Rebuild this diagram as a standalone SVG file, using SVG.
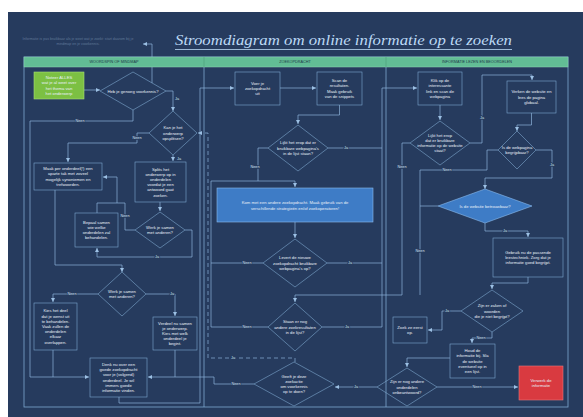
<svg xmlns="http://www.w3.org/2000/svg" width="583" height="417" viewBox="0 0 583 417">
  <style>
    .frame{fill:none;stroke:#7ea7cf;stroke-width:0.8}
    .box{fill:none;stroke:#7ea7cf;stroke-width:0.6}
    .c{fill:none;stroke:#8db3da;stroke-width:0.7}
    .dash{stroke-dasharray:4 3}
    .t{font-family:"Liberation Sans",Arial,sans-serif;font-size:4.2px;fill:#e8f0f8;text-anchor:middle}
    .lbl{font-family:"Liberation Sans",Arial,sans-serif;font-size:3.8px;fill:#d5e3f2;text-anchor:middle;stroke:#263b5e;stroke-width:1.6px;paint-order:stroke}
    .hd{font-family:"Liberation Sans",Arial,sans-serif;font-size:3.8px;fill:#1f3a4a;text-anchor:middle}
    .green{fill:#7cc043;stroke:#a8dc7a;stroke-width:0.6}
    .blue{fill:#3e7cc6;stroke:#8cbcef;stroke-width:0.6}
    .red{fill:#d93a40;stroke:#e8777b;stroke-width:0.6}
  </style>
  <defs>
    <marker id="arr" markerUnits="userSpaceOnUse" markerWidth="4" markerHeight="4" refX="4" refY="2" orient="auto">
      <path d="M0,0 L4,2 L0,4 z" fill="#9cc0e4"/>
    </marker>
  </defs>

  <!-- page -->
  <rect x="0" y="0" width="583" height="417" fill="#ffffff"/>
  <rect x="8" y="12" width="575" height="405" fill="#263b5e"/>

  <!-- title and side note -->
  <text x="175" y="45" textLength="337" lengthAdjust="spacingAndGlyphs" font-family="'Liberation Serif',serif" font-style="italic" font-size="15" fill="#bcd9f5">Stroomdiagram om online informatie op te zoeken</text>
  <line x1="175" y1="49.5" x2="512" y2="49.5" stroke="#bcd9f5" stroke-width="0.8"/>
  <text x="78" y="40" font-family="'Liberation Sans',sans-serif" font-size="3.6" fill="#5f7797" text-anchor="middle">Informatie is pas bruikbaar als je weet wat je zoekt: start daarom bij je</text>
  <text x="78" y="45" font-family="'Liberation Sans',sans-serif" font-size="3.6" fill="#5f7797" text-anchor="middle">mindmap en je voorkennis.</text>

  <!-- swimlane frame -->
  <rect class="frame" x="24" y="57" width="544" height="350"/>
  <line class="frame" x1="204" y1="57" x2="204" y2="407"/>
  <line class="frame" x1="386" y1="57" x2="386" y2="407"/>

  <!-- connectors -->
  <g id="connectors">
    <path class="c" d="M152,83 V44 H143" marker-end="url(#arr)"/>
    <path class="c" d="M84,90 H100" marker-end="url(#arr)"/>
    <path class="c" d="M166,91 H173 V111" marker-end="url(#arr)"/>
    <path class="c" d="M133,110 V121 H30 V377 H89" marker-end="url(#arr)"/>
    <path class="c" d="M149,133 H137 V143 H68 V162" marker-end="url(#arr)"/>
    <path class="c" d="M173,155 V161" marker-end="url(#arr)"/>
    <path class="c" d="M160,202 V211" marker-end="url(#arr)"/>
    <path class="c" d="M135,230 H125 V203 H117"/>
    <path class="c" d="M97,213 V203 H117 V177 H103" marker-end="url(#arr)"/>
    <path class="c" d="M185,230 H192 V257 H97 V248" marker-end="url(#arr)"/>
    <path class="c" d="M55,190 V265 H122 V272" marker-end="url(#arr)"/>
    <path class="c" d="M98,294 H53 V302" marker-end="url(#arr)"/>
    <path class="c" d="M146,294 H175 V316" marker-end="url(#arr)"/>
    <path class="c" d="M53,350 V377"/>
    <path class="c" d="M175,350 V377 H148" marker-end="url(#arr)"/>
    <path class="c" d="M254,384 H214 V377 H175"/>
    <path class="c" d="M119,397 V403 H200 V88 H234" marker-end="url(#arr)"/>
    <path class="c dash" d="M295,362 V358 H208 V133 H198" marker-end="url(#arr)"/>
    <path class="c" d="M280,88 H316" marker-end="url(#arr)"/>
    <path class="c" d="M339.5,105 V115 H298 V124" marker-end="url(#arr)"/>
    <path class="c" d="M328,148 H382"/>
    <path class="c" d="M382,327 V88 H417" marker-end="url(#arr)"/>
    <path class="c" d="M268,148 H258 V181"/>
    <path class="c" d="M211,327 V181 H295 V187" marker-end="url(#arr)"/>
    <path class="c" d="M263,263 H211"/>
    <path class="c" d="M268,327 H211"/>
    <path class="c" d="M295,222 V238" marker-end="url(#arr)"/>
    <path class="c" d="M327,263 H382"/>
    <path class="c" d="M322,327 H382"/>
    <path class="c" d="M410,143 H402 V295 H295 V302" marker-end="url(#arr)"/>
    <path class="c" d="M438,206 H420 V295"/>
    <path class="c" d="M498,150 H487 V170 H420 V206"/>
    <path class="c" d="M440,105 V120" marker-end="url(#arr)"/>
    <path class="c" d="M470,143 H482 V75 H532 V80" marker-end="url(#arr)"/>
    <path class="c" d="M531.5,113 V125 H517 V131" marker-end="url(#arr)"/>
    <path class="c" d="M536,150 H552 V178 H485 V189" marker-end="url(#arr)"/>
    <path class="c" d="M485,223 V231 H528 V237" marker-end="url(#arr)"/>
    <path class="c" d="M528,277 V283 H492 V289" marker-end="url(#arr)"/>
    <path class="c" d="M461,311 H442 V330 H428" marker-end="url(#arr)"/>
    <path class="c" d="M492,332 V338 H472 V343" marker-end="url(#arr)"/>
    <path class="c" d="M450,358 H407 V367" marker-end="url(#arr)"/>
    <path class="c" d="M437,387 H518" marker-end="url(#arr)"/>
    <path class="c" d="M377,387 H335" marker-end="url(#arr)"/>

    <text class="lbl" x="177" y="100">Ja</text>
    <text class="lbl" x="80" y="122.3">Neen</text>
    <text class="lbl" x="137" y="139">Neen</text>
    <text class="lbl" x="179" y="160">Ja</text>
    <text class="lbl" x="125" y="217">Neen</text>
    <text class="lbl" x="157" y="258.3">Ja</text>
    <text class="lbl" x="72" y="295.3">Neen</text>
    <text class="lbl" x="172" y="295.3">Ja</text>
    <text class="lbl" x="236" y="385.3">Neen</text>
    <text class="lbl" x="233" y="359.3">Ja</text>
    <text class="lbl" x="346" y="149.3">Ja</text>
    <text class="lbl" x="255" y="168">Neen</text>
    <text class="lbl" x="247" y="264.3">Neen</text>
    <text class="lbl" x="350" y="264.3">Ja</text>
    <text class="lbl" x="247" y="328.3">Neen</text>
    <text class="lbl" x="347" y="328.3">Ja</text>
    <text class="lbl" x="402" y="168">Neen</text>
    <text class="lbl" x="420" y="252">Neen</text>
    <text class="lbl" x="447" y="171.3">Neen</text>
    <text class="lbl" x="482" y="119">Ja</text>
    <text class="lbl" x="552" y="166">Ja</text>
    <text class="lbl" x="505" y="232.3">Ja</text>
    <text class="lbl" x="447" y="312.3">Ja</text>
    <text class="lbl" x="481" y="339.3">Neen</text>
    <text class="lbl" x="477" y="388.3">Neen</text>
    <text class="lbl" x="356" y="388.3">Ja</text>
  </g>

  <!-- lane headers -->
  <g id="header">
    <rect x="24" y="57" width="544" height="10" fill="#62bd95" stroke="#8fd6b3" stroke-width="0.5"/>
    <line x1="204" y1="57" x2="204" y2="67" stroke="#4f9d7b" stroke-width="0.6"/>
    <line x1="386" y1="57" x2="386" y2="67" stroke="#4f9d7b" stroke-width="0.6"/>
    <text class="hd" x="114" y="63.3">WOORDSPIN OF MINDMAP</text>
    <text class="hd" x="295" y="63.3">ZOEKOPDRACHT</text>
    <text class="hd" x="477" y="63.3">INFORMATIE LEZEN EN BEOORDELEN</text>
  </g>

  <!-- lane 1: woordspin of mindmap -->
  <g id="start">
    <rect class="green" x="34" y="72" width="50" height="27"/>
    <text class="t"><tspan x="59" y="79.2">Noteer ALLES</tspan><tspan x="59" y="84.4">wat je al weet over</tspan><tspan x="59" y="89.6">het thema van</tspan><tspan x="59" y="94.8">het onderwerp</tspan></text>
  </g>
  <g id="voorkennis">
    <polygon class="box" points="133,72 166,91 133,110 100,91"/>
    <text class="t" x="133" y="92.5">Heb je genoeg voorkennis?</text>
  </g>
  <g id="opsplitsen">
    <polygon class="box" points="173,111 197,133 173,155 149,133"/>
    <text class="t"><tspan x="173" y="129.3">Kan je het</tspan><tspan x="173" y="134.5">onderwerp</tspan><tspan x="173" y="139.7">opsplitsen?</tspan></text>
  </g>
  <g id="tak">
    <rect class="box" x="34" y="163" width="68" height="27"/>
    <text class="t"><tspan x="68" y="170.2">Maak per onderdeel(!) een</tspan><tspan x="68" y="175.4">aparte tak met zoveel</tspan><tspan x="68" y="180.6">mogelijk synoniemen en</tspan><tspan x="68" y="185.8">trefwoorden.</tspan></text>
  </g>
  <g id="splits">
    <rect class="box" x="135" y="162" width="51" height="40"/>
    <text class="t"><tspan x="160.5" y="170.5">Splits het</tspan><tspan x="160.5" y="175.7">onderwerp op in</tspan><tspan x="160.5" y="180.9">onderdelen</tspan><tspan x="160.5" y="186.1">voordat je een</tspan><tspan x="160.5" y="191.3">antwoord gaat</tspan><tspan x="160.5" y="196.5">zoeken.</tspan></text>
  </g>
  <g id="samen1">
    <polygon class="box" points="160,212 185,230 160,248 135,230"/>
    <text class="t"><tspan x="160" y="228.9">Werk je samen</tspan><tspan x="160" y="234.1">met anderen?</tspan></text>
  </g>
  <g id="bepaal">
    <rect class="box" x="75" y="213" width="43" height="34"/>
    <text class="t"><tspan x="96.5" y="223.7">Bepaal samen</tspan><tspan x="96.5" y="228.9">wie welke</tspan><tspan x="96.5" y="234.1">onderdelen zal</tspan><tspan x="96.5" y="239.3">behandelen.</tspan></text>
  </g>
  <g id="samen2">
    <polygon class="box" points="122,272 146,294 122,316 98,294"/>
    <text class="t"><tspan x="122" y="292.9">Werk je samen</tspan><tspan x="122" y="298.1">met anderen?</tspan></text>
  </g>
  <g id="kies">
    <rect class="box" x="34" y="303" width="43" height="47"/>
    <text class="t"><tspan x="55.5" y="312.4">Kies het deel</tspan><tspan x="55.5" y="317.6">dat je wenst uit</tspan><tspan x="55.5" y="322.8">te behandelen.</tspan><tspan x="55.5" y="328">Vaak zullen de</tspan><tspan x="55.5" y="333.2">onderdelen</tspan><tspan x="55.5" y="338.4">elkaar</tspan><tspan x="55.5" y="343.6">overlappen.</tspan></text>
  </g>
  <g id="verdeel">
    <rect class="box" x="153" y="317" width="44" height="33"/>
    <text class="t"><tspan x="175" y="324.6">Verdeel nu samen</tspan><tspan x="175" y="329.8">je onderwerp.</tspan><tspan x="175" y="335">Kies met welk</tspan><tspan x="175" y="340.2">onderdeel je</tspan><tspan x="175" y="345.4">begint.</tspan></text>
  </g>
  <g id="denk">
    <rect class="box" x="90" y="358" width="57" height="39"/>
    <text class="t"><tspan x="118.5" y="366">Denk nu over een</tspan><tspan x="118.5" y="371.2">goede zoekopdracht</tspan><tspan x="118.5" y="376.4">voor je (volgend)</tspan><tspan x="118.5" y="381.6">onderdeel. Je wil</tspan><tspan x="118.5" y="386.8">immers goede</tspan><tspan x="118.5" y="392">informatie vinden.</tspan></text>
  </g>

  <!-- lane 2: zoekopdracht -->
  <g id="voer">
    <rect class="box" x="235" y="72" width="45" height="33"/>
    <text class="t"><tspan x="257.5" y="84.8">Voer je</tspan><tspan x="257.5" y="90">zoekopdracht</tspan><tspan x="257.5" y="95.2">uit</tspan></text>
  </g>
  <g id="scan">
    <rect class="box" x="317" y="72" width="45" height="33"/>
    <text class="t"><tspan x="339.5" y="82.2">Scan de</tspan><tspan x="339.5" y="87.4">resultaten.</tspan><tspan x="339.5" y="92.6">Maak gebruik</tspan><tspan x="339.5" y="97.8">van de snippets</tspan></text>
  </g>
  <g id="lijst">
    <polygon class="box" points="298,125 328,148 298,171 268,148"/>
    <text class="t"><tspan x="298" y="144.3">Lijkt het erop dat er</tspan><tspan x="298" y="149.5">bruikbare webpagina's</tspan><tspan x="298" y="154.7">in de lijst staan?</tspan></text>
  </g>
  <g id="nieuw">
    <rect class="blue" x="217" y="188" width="156" height="34"/>
    <text class="t"><tspan x="295" y="203.5">Kom met een andere zoekopdracht. Maak gebruik van de</tspan><tspan x="295" y="209.5">verschillende strategieën en/of zoekoperatoren!</tspan></text>
  </g>
  <g id="levert">
    <polygon class="box" points="295,239 327,263 295,287 263,263"/>
    <text class="t"><tspan x="295" y="259.3">Levert de nieuwe</tspan><tspan x="295" y="264.5">zoekopdracht bruikbare</tspan><tspan x="295" y="269.7">webpagina's op?</tspan></text>
  </g>
  <g id="staan">
    <polygon class="box" points="295,303 322,327 295,351 268,327"/>
    <text class="t"><tspan x="295" y="323.3">Staan er nog</tspan><tspan x="295" y="328.5">andere zoekresultaten</tspan><tspan x="295" y="333.7">in de lijst?</tspan></text>
  </g>
  <g id="geeft">
    <polygon class="box" points="294,362 334,384 294,406 254,384"/>
    <text class="t"><tspan x="294" y="377.7">Geeft je deze</tspan><tspan x="294" y="382.9">zoekactie</tspan><tspan x="294" y="388.1">om voorkennis</tspan><tspan x="294" y="393.3">op te doen?</tspan></text>
  </g>

  <!-- lane 3: informatie lezen en beoordelen -->
  <g id="klik">
    <rect class="box" x="418" y="72" width="44" height="33"/>
    <text class="t"><tspan x="440" y="82.2">Klik op de</tspan><tspan x="440" y="87.4">interessante</tspan><tspan x="440" y="92.6">link en scan de</tspan><tspan x="440" y="97.8">webpagina</tspan></text>
  </g>
  <g id="bruikbaar">
    <polygon class="box" points="440,121 470,143 440,165 410,143"/>
    <text class="t"><tspan x="440" y="136.7">Lijkt het erop</tspan><tspan x="440" y="141.9">dat er bruikbare</tspan><tspan x="440" y="147.1">informatie op de website</tspan><tspan x="440" y="152.3">staat?</tspan></text>
  </g>
  <g id="verken">
    <rect class="box" x="507" y="81" width="49" height="32"/>
    <text class="t"><tspan x="531.5" y="93.3">Verken de website en</tspan><tspan x="531.5" y="98.5">lees de pagina</tspan><tspan x="531.5" y="103.7">globaal.</tspan></text>
  </g>
  <g id="begrijpbaar">
    <polygon class="box" points="517,131 536,150 517,169 498,150"/>
    <text class="t"><tspan x="517" y="148.9">Is de webpagina</tspan><tspan x="517" y="154.1">begrijpbaar?</tspan></text>
  </g>
  <g id="betrouwbaar">
    <polygon class="blue" points="485,189 532,206 485,223 438,206"/>
    <text class="t" x="485" y="207.5">Is de website betrouwbaar?</text>
  </g>
  <g id="leestechniek">
    <rect class="box" x="493" y="238" width="70" height="39"/>
    <text class="t"><tspan x="528" y="253.8">Gebruik nu de passende</tspan><tspan x="528" y="259">leestechniek. Zorg dat je</tspan><tspan x="528" y="264.2">informatie goed begrijpt.</tspan></text>
  </g>
  <g id="woorden">
    <polygon class="box" points="492,290 523,311 492,332 461,311"/>
    <text class="t"><tspan x="492" y="307.3">Zijn er zaken of</tspan><tspan x="492" y="312.5">woorden</tspan><tspan x="492" y="317.7">die je niet begrijpt?</tspan></text>
  </g>
  <g id="opzoeken">
    <rect class="box" x="393" y="317" width="34" height="26"/>
    <text class="t"><tspan x="410" y="328.9">Zoek ze eerst</tspan><tspan x="410" y="334.1">op.</tspan></text>
  </g>
  <g id="houd">
    <rect class="box" x="450" y="344" width="45" height="34"/>
    <text class="t"><tspan x="472.5" y="352.1">Houd de</tspan><tspan x="472.5" y="357.3">informatie bij. Sla</tspan><tspan x="472.5" y="362.5">de website</tspan><tspan x="472.5" y="367.7">eventueel op in</tspan><tspan x="472.5" y="372.9">een lijst.</tspan></text>
  </g>
  <g id="onderdelen">
    <polygon class="box" points="407,368 437,387 407,406 377,387"/>
    <text class="t"><tspan x="407" y="383.3">Zijn er nog andere</tspan><tspan x="407" y="388.5">onderdelen</tspan><tspan x="407" y="393.7">onbeantwoord?</tspan></text>
  </g>
  <g id="verwerk">
    <rect class="red" x="519" y="366" width="44" height="34"/>
    <text class="t"><tspan x="541" y="381.9">Verwerk de</tspan><tspan x="541" y="387.1">informatie</tspan></text>
  </g>
</svg>
